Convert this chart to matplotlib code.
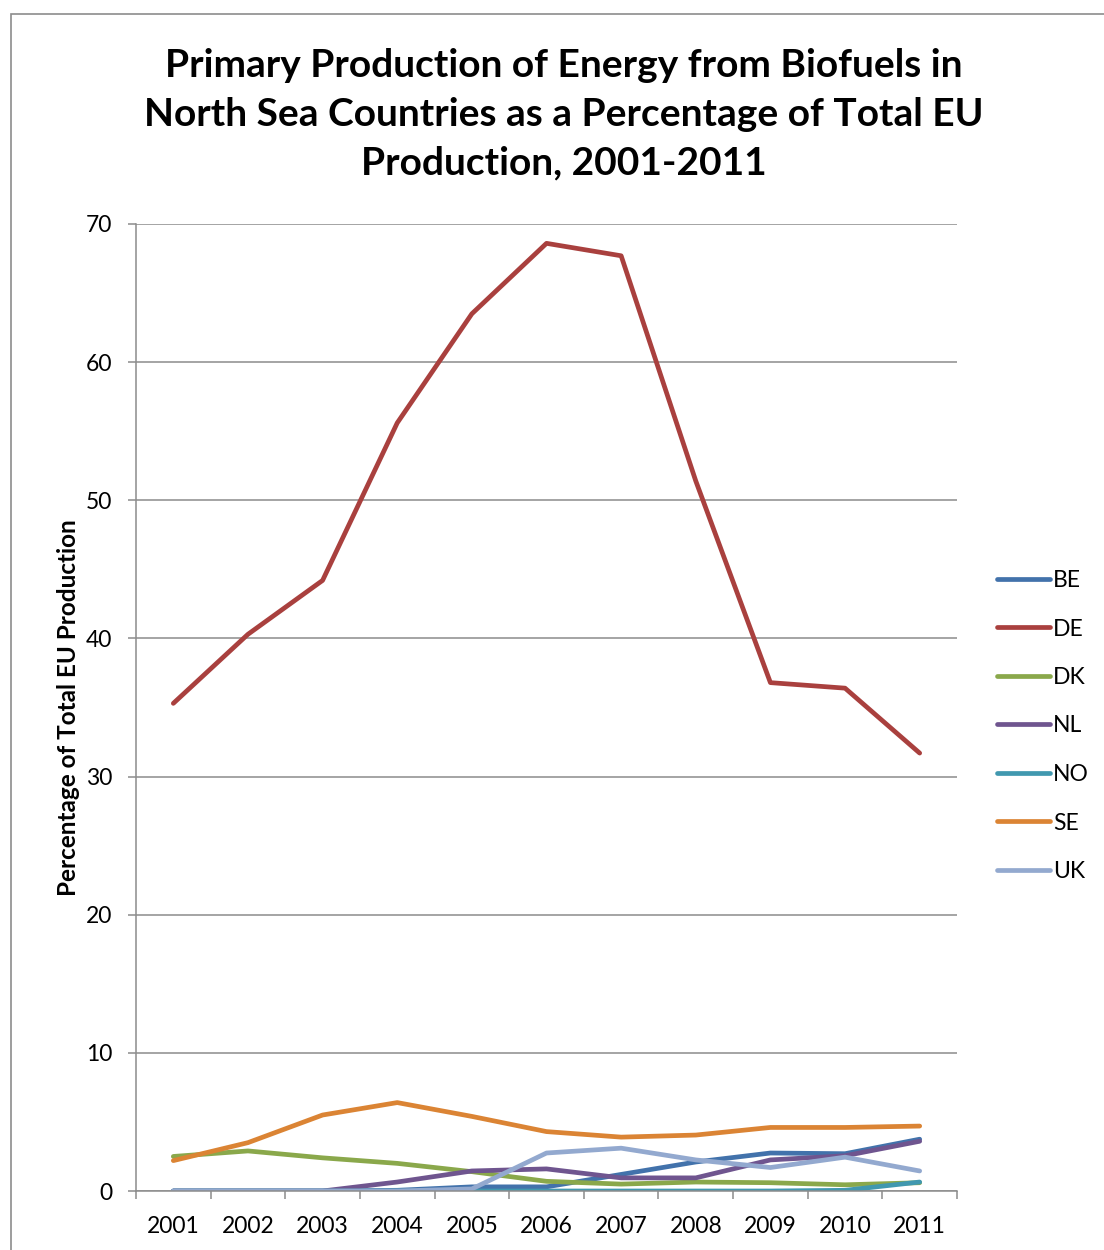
import numpy as np
import matplotlib
matplotlib.use('Agg')
import matplotlib.pyplot as plt
from matplotlib.patches import Rectangle
from matplotlib.ticker import MultipleLocator, FixedLocator

plt.rcParams['font.family'] = ['Lato', 'DejaVu Sans']

years = list(range(2001, 2012))
countries = ['BE', 'DE', 'DK', 'NL', 'NO', 'SE', 'UK']

be = [0.0, 0.0, 0.0, 0.05, 0.3, 0.3, 1.2, 2.1, 2.75, 2.7, 3.75]
de = [35.3, 40.3, 44.2, 55.6, 63.5, 68.6, 67.7, 51.4, 36.8, 36.4, 31.7]
dk = [2.5, 2.9, 2.4, 2.0, 1.4, 0.7, 0.5, 0.65, 0.6, 0.45, 0.6]
nl = [0.0, 0.0, 0.0, 0.65, 1.45, 1.6, 0.95, 0.95, 2.25, 2.55, 3.6]
no = [0.0, 0.0, 0.0, 0.0, 0.0, 0.0, 0.0, 0.0, 0.0, 0.05, 0.65]
se = [2.2, 3.5, 5.5, 6.4, 5.4, 4.3, 3.9, 4.05, 4.6, 4.6, 4.7]
uk = [0.0, 0.0, 0.0, 0.0, 0.15, 2.75, 3.1, 2.25, 1.7, 2.45, 1.45]

series = [be, de, dk, nl, no, se, uk]
colors = ['#4272AB', '#A9403E', '#8AA84B', '#6F558F', '#4198AF', '#DB8434', '#93A9CF']

W, H = 1104, 1250
fig = plt.figure(figsize=(W / 100, H / 100), dpi=100)

# outer chart frame
fig.patches.append(Rectangle((11 / W, -0.05), 1.2, 1 - 14 / H + 0.05,
                             transform=fig.transFigure, fill=False,
                             edgecolor='#8C8C8C', linewidth=1.2))

ax = fig.add_axes([136 / W, 1 - 1191 / H, (957 - 136) / W, (1191 - 224) / H])

for vals, name, c in zip(series, countries, colors):
    ax.plot(years, vals, color=c, linewidth=3.4, label=name,
            solid_capstyle='round', solid_joinstyle='round')

ax.set_xlim(2000.5, 2011.5)
ax.set_ylim(0, 70)
ax.yaxis.set_major_locator(MultipleLocator(10))
ax.grid(axis='y', color='#8C8C8C', linewidth=1.1)
ax.set_axisbelow(True)

# category axis: ticks on bin edges, labels at centres
ax.xaxis.set_major_locator(FixedLocator(np.arange(2000.5, 2012, 1)))
ax.xaxis.set_minor_locator(FixedLocator(years))
ax.set_xticklabels([])
ax.set_xticklabels([str(y) for y in years], minor=True)
ax.tick_params(axis='x', which='major', length=6, width=1.1, color='#8C8C8C')
ax.tick_params(axis='x', which='minor', length=0, pad=18, labelsize=16.5)
ax.tick_params(axis='y', length=6, width=1.1, color='#8C8C8C', pad=11, labelsize=16.5)

for s in ['top', 'right']:
    ax.spines[s].set_visible(False)
for s in ['left', 'bottom']:
    ax.spines[s].set_color('#8C8C8C')
    ax.spines[s].set_linewidth(1.1)

ax.set_ylabel('Percentage of Total EU Production', fontsize=17.5, fontweight='bold')
ax.yaxis.set_label_coords(-0.068, 0.5)

fig.text(564 / W, 1 - 114 / H,
         'Primary Production of Energy from Biofuels in\n'
         'North Sea Countries as a Percentage of Total EU\n'
         'Production, 2001-2011',
         ha='center', va='center', multialignment='center',
         fontsize=28, fontweight='bold', linespacing=1.47)

fig.legend(loc='center left', bbox_to_anchor=(997 / W, 1 - 726 / H),
           frameon=False, fontsize=16.5, handlelength=2.3, handletextpad=0.15,
           labelspacing=1.2, borderpad=0, borderaxespad=0)

fig.savefig('out.png', dpi=100)
